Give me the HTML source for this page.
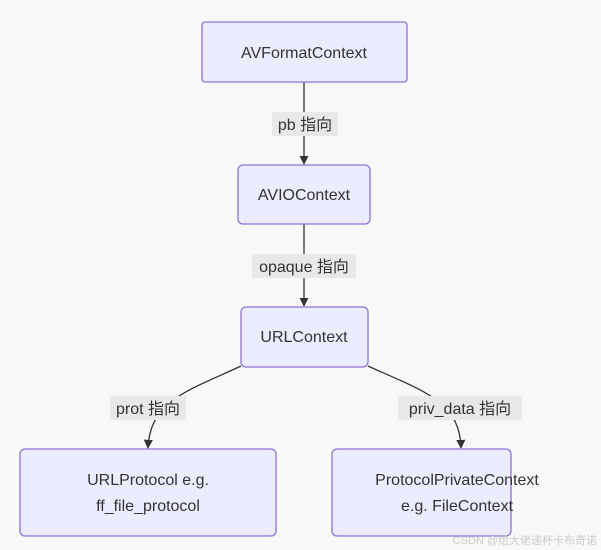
<!DOCTYPE html>
<html><head><meta charset="utf-8"><style>
html,body{margin:0;padding:0;background:#f8f8f8}
svg{display:block}
text{font-family:"Liberation Sans","Noto Sans CJK SC",sans-serif;font-size:16px;fill:#333}
</style></head><body>
<svg width="601" height="550" viewBox="0 0 601 550" xmlns="http://www.w3.org/2000/svg">
<defs><marker id="a" viewBox="0 0 10 10" refX="9" refY="5" markerWidth="7" markerHeight="7" orient="auto"><path d="M0,0L10,5L0,10z" fill="#333"/></marker></defs>
<rect width="601" height="550" fill="#f8f8f8"/>
<g stroke="#333" stroke-width="1.3" fill="none">
<path d="M304,82V164" marker-end="url(#a)"/>
<path d="M304,224V306" marker-end="url(#a)"/>
<path d="M241,366C190,390 150,400 148,448" marker-end="url(#a)"/>
<path d="M368,366C420,390 460,400 461,448" marker-end="url(#a)"/>
</g>
<g fill="#ececff" stroke="#9370db" stroke-width="1.3">
<rect x="202" y="22" width="205" height="60" rx="3"/>
<rect x="238" y="165" width="132" height="59" rx="5"/>
<rect x="241" y="307" width="127" height="60" rx="5"/>
<rect x="20" y="449" width="256" height="87" rx="5"/>
<rect x="332" y="449" width="179" height="87" rx="5"/>
</g>
<g fill="#e8e8e8">
<rect x="272" y="112" width="66" height="24"/>
<rect x="252" y="254" width="104" height="24"/>
<rect x="110" y="396" width="76" height="24"/>
<rect x="398" y="396" width="124" height="24"/>
</g>
<g text-anchor="middle">
<text x="304" y="58">AVFormatContext</text>
<text x="304" y="200">AVIOContext</text>
<text x="304" y="342">URLContext</text>
<text x="148" y="485">URLProtocol e.g.</text>
<text x="148" y="511">ff_file_protocol</text>
<text x="457" y="485">ProtocolPrivateContext</text>
<text x="457" y="511">e.g. FileContext</text>
<text x="305" y="130">pb 指向</text>
<text x="304" y="272">opaque 指向</text>
<text x="148" y="414">prot 指向</text>
<text x="460" y="414">priv_data 指向</text>
</g>
<text x="597" y="544" text-anchor="end" style="font-size:11px;fill:#ccc">CSDN @给大佬递杯卡布奇诺</text>
</svg>
</body></html>
